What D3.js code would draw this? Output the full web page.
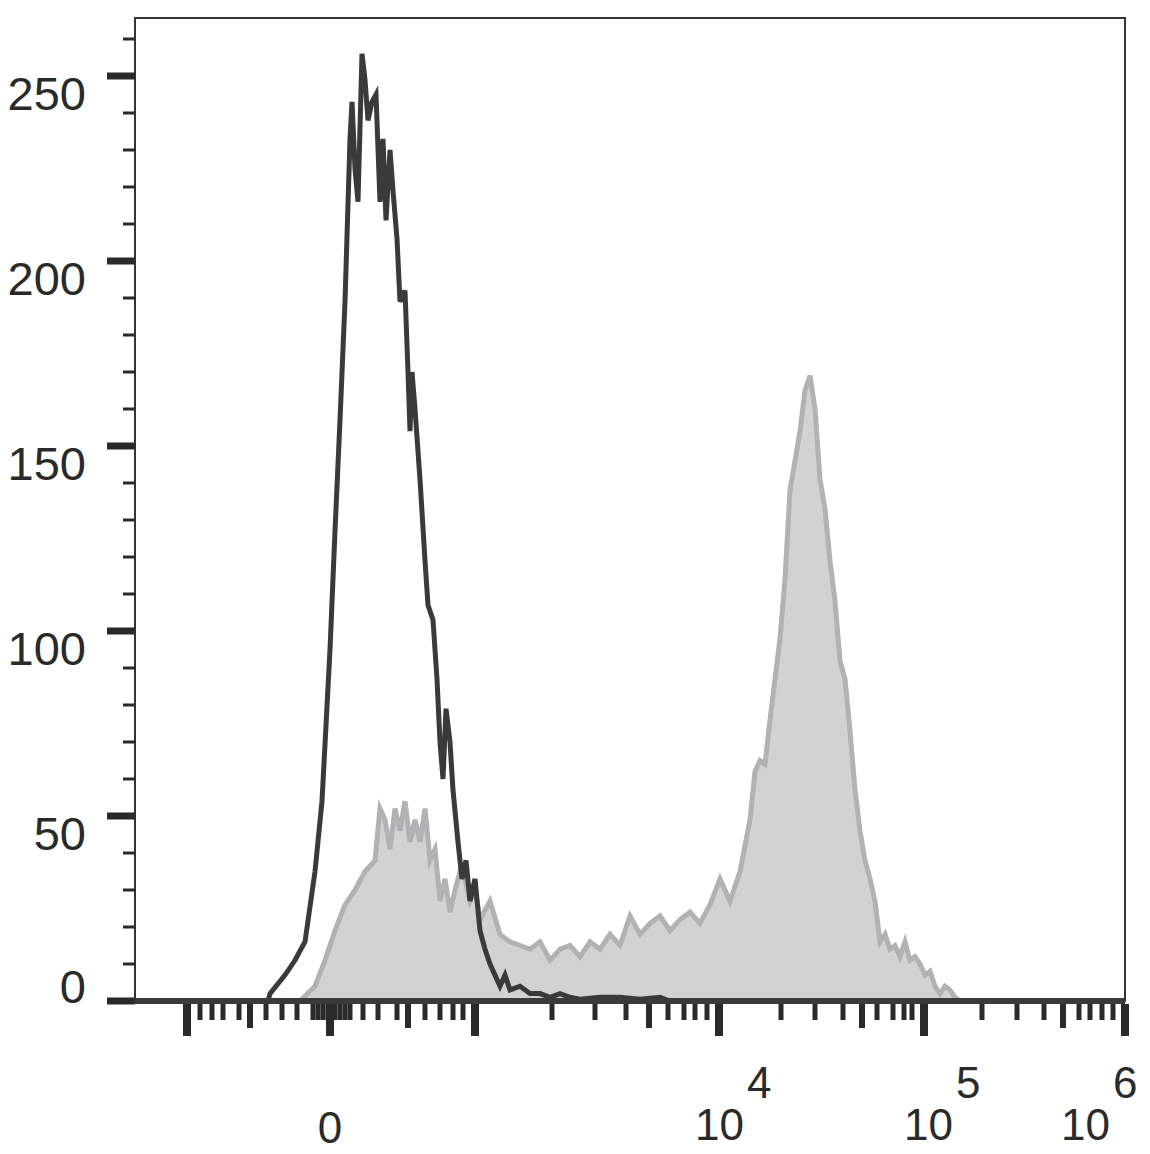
<!DOCTYPE html>
<html><head><meta charset="utf-8">
<script src="https://cdn.jsdelivr.net/npm/d3@7"></script>
<style>body{margin:0;background:#fff}</style></head>
<body><svg id="c" width="1150" height="1154"></svg>
<script>
// channel units (display scale, 135..1125)
const unstainedX=[135,268,270,285,295,305,315,322,330,335,340,345,350,352,355,358,362,365,368,372,376,380,383,386,390,393,397,400,405,408,410,412,415,420,425,428,433,437,440,443,446,450,453,458,462,466,470,475,480,485,490,495,500,505,510,520,530,540,550,560,570,580,600,620,640,660,670,1125];
const unstainedY=[0,0,2,7,11,16,35,54,95,127,157,189,233,243,225,216,256,249,238,243,245,216,233,211,230,219,206,189,192,170,154,170,160,141,119,107,103,87,70,60,79,70,57,43,33,38,27,33,19,14,10,7,4,7,3,4,2,2,1,2,1,0.5,1,1,0.5,1,0,0];
const stainedX=[135,300,315,325,335,345,355,365,375,380,385,390,395,400,405,410,415,420,425,430,435,440,445,450,455,460,465,470,475,480,490,500,510,520,530,540,550,560,570,580,590,600,610,620,630,640,650,660,670,680,690,700,710,720,730,740,750,755,760,765,770,775,780,785,790,795,800,805,810,815,820,825,830,835,840,845,850,855,860,865,870,875,880,885,890,895,900,905,910,915,920,925,930,935,940,945,950,955,960,1125];
const stainedY=[0,0,4,11,19,26,30,35,38,52,49,41,52,46,54,43,49,43,52,38,41,27,33,24,30,35,33,27,30,22,27,18,16,15,14,16,11,14,15,12,16,14,18,15,23,18,21,23,19,22,24,21,26,33,27,35,49,62,65,64,76,87,98,114,138,146,154,165,169,160,141,133,119,108,92,87,73,57,46,38,33,27,16,18,14,15,12,16,11,12,10,7,8,4,2,4,3,1,0,0];
const yTicks=[0,50,100,150,200,250];
const yMinor=[10,20,30,40,60,70,80,90,110,120,130,140,160,170,180,190,210,220,230,240,260];
const xMajor=[187,330,475,719,924,1125];
const xMedium=[250,408,649,862,1063];
const xMinor=[200,212,223,239,266,282,297,313,318,323,328,335,340,345,350,363,378,397,425,440,453,463,552,595,626,668,684,695,707,781,815,843,877,893,904,912,982,1017,1044,1079,1090,1102,1113];
const xLabels=[{v:330,t:"0"},{v:719,t:"10",e:"4"},{v:928,t:"10",e:"5"},{v:1085,t:"10",e:"6"}];

const svg=d3.select("#c");
const x=d3.scaleLinear().domain([135,1125]).range([135,1125]);
const y=d3.scaleLinear().domain([0,250]).range([1001,76]);
const font="'Liberation Sans',Arial,sans-serif";

svg.append("rect").attr("x",135).attr("y",18).attr("width",990).attr("height",983)
  .attr("fill","none").attr("stroke","#333").attr("stroke-width",2);

const area=d3.area().x(d=>x(d[0])).y0(y(0)).y1(d=>y(d[1]));
const line=d3.line().x(d=>x(d[0])).y(d=>y(d[1]));
const sd=stainedX.map((v,i)=>[v,stainedY[i]]);
const ud=unstainedX.map((v,i)=>[v,unstainedY[i]]);
svg.append("path").attr("d",area(sd)).attr("fill","#d2d2d2");
svg.append("path").attr("d",line(sd)).attr("fill","none").attr("stroke","#b2b2b4").attr("stroke-width",5);
svg.append("path").attr("d",line(ud)).attr("fill","none").attr("stroke","#3a3a3a").attr("stroke-width",5);
svg.append("line").attr("x1",135).attr("x2",1125).attr("y1",1001).attr("y2",1001).attr("stroke","#3a3a3a").attr("stroke-width",6);

const ga=svg.append("g");
yTicks.forEach(v=>ga.append("rect").attr("x",107).attr("y",y(v)-3.5).attr("width",28).attr("height",7).attr("fill","#2a2a2a"));
yMinor.forEach(v=>ga.append("rect").attr("x",123).attr("y",y(v)-1.5).attr("width",12).attr("height",3).attr("fill","#2a2a2a"));
yTicks.forEach(v=>ga.append("text").attr("x",86).attr("y",v===0?y(v)+2:y(v)+34).attr("text-anchor","end")
  .attr("font-family",font).attr("font-size",47).attr("fill","#2a2a2a").text(v));
const gx=svg.append("g");
xMajor.forEach(v=>gx.append("rect").attr("x",x(v)-4).attr("y",1004).attr("width",8).attr("height",32).attr("fill","#2a2a2a"));
xMedium.forEach(v=>gx.append("rect").attr("x",x(v)-3).attr("y",1004).attr("width",6).attr("height",24).attr("fill","#2a2a2a"));
xMinor.forEach(v=>gx.append("rect").attr("x",x(v)-2.5).attr("y",1004).attr("width",5).attr("height",16).attr("fill","#2a2a2a"));
xLabels.forEach(l=>{
  if(!l.e){
    gx.append("text").attr("x",x(l.v)).attr("y",1143).attr("text-anchor","middle")
      .attr("font-family",font).attr("font-size",44).attr("fill","#2a2a2a").text(l.t);
  } else {
    gx.append("text").attr("x",x(l.v)-24).attr("y",1140)
      .attr("font-family",font).attr("font-size",44).attr("fill","#2a2a2a").text(l.t);
    gx.append("text").attr("x",x(l.v)+28).attr("y",1098)
      .attr("font-family",font).attr("font-size",44).attr("fill","#2a2a2a").text(l.e);
  }
});
</script></body></html>
